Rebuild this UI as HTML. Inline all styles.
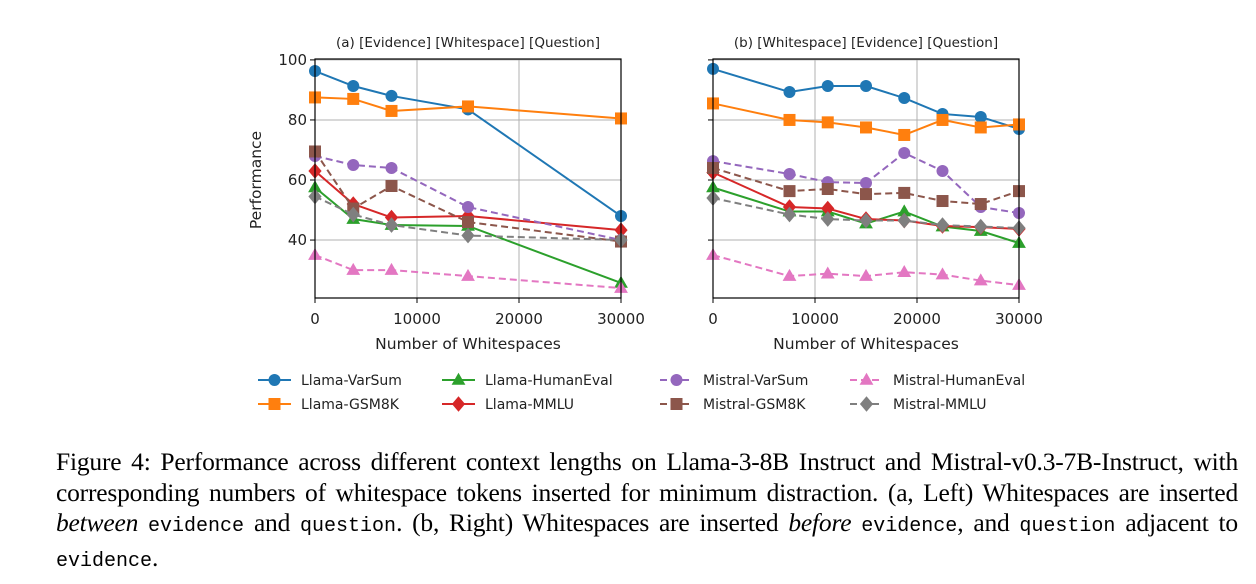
<!DOCTYPE html>
<html><head><meta charset="utf-8"><style>
body{margin:0;background:#fff;width:1256px;height:584px;overflow:hidden;position:relative}
#cap{position:absolute;left:56px;top:447px;width:1182px;font:25.5px "Liberation Serif",serif;line-height:30.5px;color:#000;letter-spacing:-0.2px}
#cap div{white-space:nowrap}
#cap .j{text-align:justify;text-align-last:justify}
#cap code{font-family:"Liberation Mono",monospace;font-size:20px;letter-spacing:0}
</style></head><body>
<svg id="chart" width="1256" height="440" style="position:absolute;left:0;top:0" font-family="DejaVu Sans, sans-serif"></svg>
<div id="cap">
<div class="j">Figure 4: Performance across different context lengths on Llama-3-8B Instruct and Mistral-v0.3-7B-Instruct, with</div>
<div class="j">corresponding numbers of whitespace tokens inserted for minimum distraction. (a, Left) Whitespaces are inserted</div>
<div class="j"><i>between</i> <code>evidence</code> and <code>question</code>. (b, Right) Whitespaces are inserted <i>before</i> <code>evidence</code>, and <code>question</code> adjacent to</div>
<div><code>evidence</code>.</div>
</div>
<script>
const xA=[0,3750,7500,15000,30000];
const xB=[0,7500,11250,15000,18750,22500,26250,30000];
const seriesNames=["Llama-VarSum","Llama-GSM8K","Llama-HumanEval","Llama-MMLU","Mistral-VarSum","Mistral-GSM8K","Mistral-HumanEval","Mistral-MMLU"];
const aLlamaVarSum=[96.3,91.3,88,83.5,48];
const aLlamaGSM8K=[87.5,87,83,84.5,80.5];
const aLlamaHumanEval=[57.5,47,45,44.7,25.7];
const aLlamaMMLU=[63,52,47.5,48,43.3];
const aMistralVarSum=[68,65,64,51,40];
const aMistralGSM8K=[69.5,50.5,58,46,39.5];
const aMistralHumanEval=[35,30,30,28,24];
const aMistralMMLU=[54.5,48.5,45,41.5,40];
const bLlamaVarSum=[97,89.3,91.3,91.3,87.3,82,81,77];
const bLlamaGSM8K=[85.5,80,79.2,77.5,75,80,77.5,78.5];
const bLlamaHumanEval=[57.5,49.5,49.5,45.5,49.5,44.5,43,39];
const bLlamaMMLU=[62.5,51,50.5,47,46.5,44.7,44.3,43.7];
const bMistralVarSum=[66.3,62,59.3,59,69,63,51,49];
const bMistralGSM8K=[64,56.3,57,55.3,55.7,53,52,56.3];
const bMistralHumanEval=[35,28,28.8,28,29.3,28.5,26.5,25];
const bMistralMMLU=[54,48.5,47,46.5,46.5,45,44.5,44];
const xTicks=[0,10000,20000,30000];
const yTicks=[40,60,80,100];

const colors=["#1f77b4","#ff7f0e","#2ca02c","#d62728","#9467bd","#8c564b","#e377c2","#7f7f7f"];
const markers=["o","s","^","D","o","s","^","D"];
const dashed=[0,0,0,0,1,1,1,1];
const NS="http://www.w3.org/2000/svg";
const svg=document.getElementById('chart');
function mk(t,a,p){const e=document.createElementNS(NS,t);for(const k in a)e.setAttribute(k,a[k]);(p||svg).appendChild(e);return e;}
function marker(g,m,x,y,c,s){
 if(m==="o")return mk('circle',{cx:x,cy:y,r:s,fill:c},g);
 if(m==="s")return mk('rect',{x:x-s,y:y-s,width:2*s,height:2*s,fill:c},g);
 if(m==="^")return mk('polygon',{points:`${x},${y-s*1.2} ${x-s*1.15},${y+s*0.8} ${x+s*1.15},${y+s*0.8}`,fill:c},g);
 return mk('polygon',{points:`${x},${y-s*1.3} ${x+s*1.1},${y} ${x},${y+s*1.3} ${x-s*1.1},${y}`,fill:c},g);
}
const Y0=20.7,Y1=100.3,TOP=59,BOT=298;
function sy(v){return BOT-(v-Y0)/(Y1-Y0)*(BOT-TOP);}
function panel(name,L,R,xs,data,title,showY){
 const g=mk('g',{});
 
 
 const sx=v=>L+v/30000*(R-L);
 xTicks.forEach(t=>{const x=sx(t);
  const gl=mk('line',{x1:x,x2:x,y1:TOP,y2:BOT,stroke:'#b0b0b0','stroke-width':1},g);
  mk('line',{x1:x,x2:x,y1:BOT,y2:BOT+5,stroke:'#000'},g);
  const tx=mk('text',{x:x,y:BOT+26,'text-anchor':'middle','font-size':15,fill:'#222'},g);tx.textContent=t;});
 yTicks.forEach(t=>{const y=sy(t);
  const gl=mk('line',{x1:L,x2:R,y1:y,y2:y,stroke:'#b0b0b0','stroke-width':1},g);
  mk('line',{x1:L-5,x2:L,y1:y,y2:y,stroke:'#000'},g);
  if(showY){const tx=mk('text',{x:L-8,y:y+5,'text-anchor':'end','font-size':15,fill:'#222'},g);tx.textContent=t;}});
 data.forEach((d,i)=>{
  const pts=d.map((v,j)=>sx(xs[j])+','+sy(v)).join(' ');
  const pl=mk('polyline',{points:pts,fill:'none',stroke:colors[i],'stroke-width':2,'stroke-dasharray':dashed[i]?'7,4':'none'},g);
  
  
  d.forEach((v,j)=>{const m=marker(g,markers[i],sx(xs[j]),sy(v),colors[i],6);
   
   });
 });
 mk('rect',{x:L,y:TOP,width:R-L,height:BOT-TOP,fill:'none',stroke:'#000','stroke-width':1.2},g);
 const tt=mk('text',{x:(L+R)/2,y:TOP-12,'text-anchor':'middle','font-size':13.5,fill:'#222'},g);tt.textContent=title;
 const xl=mk('text',{x:(L+R)/2,y:349,'text-anchor':'middle','font-size':15.5,fill:'#222'},g);xl.textContent='Number of Whitespaces';
}
panel('panel-a',315,621,xA,[aLlamaVarSum,aLlamaGSM8K,aLlamaHumanEval,aLlamaMMLU,aMistralVarSum,aMistralGSM8K,aMistralHumanEval,aMistralMMLU],'(a) [Evidence] [Whitespace] [Question]',true);
panel('panel-b',713,1019,xB,[bLlamaVarSum,bLlamaGSM8K,bLlamaHumanEval,bLlamaMMLU,bMistralVarSum,bMistralGSM8K,bMistralHumanEval,bMistralMMLU],'(b) [Whitespace] [Evidence] [Question]',false);
const yl=mk('text',{x:261,y:180,'text-anchor':'middle','font-size':15.5,fill:'#222',transform:'rotate(-90 261 180)'});
yl.textContent='Performance';


const order=[0,2,4,6,1,3,5,7];
const colX=[258,442,660,850],rowY=[380,404];
order.forEach((si,k)=>{
 const c=k%4,r=Math.floor(k/4),x=colX[c],y=rowY[r];
 const g=mk('g',{});
 
 
 mk('line',{x1:x,x2:x+33,y1:y,y2:y,stroke:colors[si],'stroke-width':2,'stroke-dasharray':dashed[si]?'7,4':'none'},g);
 marker(g,markers[si],x+16.5,y,colors[si],6);
 const t=mk('text',{x:x+43,y:y+5,'font-size':14,fill:'#222'},g);t.textContent=seriesNames[si];
});
</script>
</body></html>
